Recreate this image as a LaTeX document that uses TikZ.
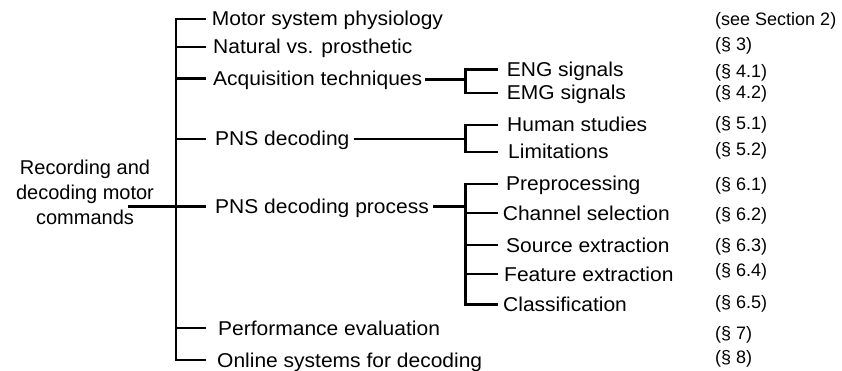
\documentclass[tikz,border=0pt]{standalone}
\usepackage{fontspec}
\setmainfont{Liberation Sans}
\newfontfamily\labelfont{Liberation Sans}[FakeStretch=1.05]
\usetikzlibrary{calc}
\begin{document}
\begin{tikzpicture}[x=1pt,y=-1pt,
  tree/.style={line width=2.9pt, line join=miter},
  item/.style={anchor=base west, inner sep=0pt, font=\labelfont\fontsize{20}{24.5}\selectfont},
  sect/.style={anchor=base west, inner sep=0pt, font=\fontsize{18}{22}\selectfont},
  rootbox/.style={anchor=base, inner sep=0pt, align=center, font=\fontsize{20}{24.5}\selectfont}]
\useasboundingbox (0,0) rectangle (842,371);

% root
\node[rootbox] (root) at (85,224) {Recording and\\decoding motor\\commands};
\coordinate (stub) at (128,206.7);

% first level
\node[item] (m1) at (211.7,26)  {Motor system physiology};
\node[item] (m2) at (213,54)    {Natural vs. prosthetic};
\node[item] (m3) at (213,85.5)  {Acquisition techniques};
\node[item] (m4) at (215,146)   {PNS decoding};
\node[item] (m5) at (215,213.5) {PNS decoding process};
\node[item] (m6) at (218,335)   {Performance evaluation};
\node[item] (m7) at (217,367)   {Online systems for decoding};

% second level
\node[item] (a1) at (506.7,76.5) {ENG signals};
\node[item] (a2) at (506.7,100)  {EMG signals};
\node[item] (b1) at (507,132)    {Human studies};
\node[item] (b2) at (508,159)    {Limitations};
\node[item] (c1) at (506,191)    {Preprocessing};
\node[item] (c2) at (502.7,220)  {Channel selection};
\node[item] (c3) at (506,252)    {Source extraction};
\node[item] (c4) at (504,281)    {Feature extraction};
\node[item] (c5) at (503,311.5)  {Classification};

% section references
\node[sect] (s1)  at (715,26)    {(see Section 2)};
\node[sect] (s2)  at (715,50.5)  {(§ 3)};
\node[sect] (s3)  at (715,77.5)  {(§ 4.1)};
\node[sect] (s4)  at (715,98.5)  {(§ 4.2)};
\node[sect] (s5)  at (715,130)   {(§ 5.1)};
\node[sect] (s6)  at (715,156)   {(§ 5.2)};
\node[sect] (s7)  at (715,191)   {(§ 6.1)};
\node[sect] (s8)  at (715,221)   {(§ 6.2)};
\node[sect] (s9)  at (715,251)   {(§ 6.3)};
\node[sect] (s10) at (715,276)   {(§ 6.4)};
\node[sect] (s11) at (715,308)   {(§ 6.5)};
\node[sect] (s12) at (715,339.5) {(§ 7)};
\node[sect] (s13) at (715,363)   {(§ 8)};

% trunk and junction columns
\coordinate (trunk) at (176,0);
\coordinate (tick)  at (206,0);
\coordinate (ja)    at (465.7,0);
\coordinate (sub)   at (498,0);

% tick ends, at mid cap height of each label
\foreach \n in {m1,m2,m3,m4,m5,m6,m7}
  \coordinate (e\n) at ([yshift=7pt]\n.base west -| tick);
\foreach \n in {a1,a2,b1,b2,c1,c2,c3,c4,c5}
  \coordinate (e\n) at ([yshift=7pt]\n.base west -| sub);

% start points of the links leaving the first-level labels
\coordinate (x3) at ([xshift=3pt,yshift=6pt]m3.base east);
\coordinate (x4) at ([xshift=4pt,yshift=7pt]m4.base east);
\coordinate (x5) at ([xshift=4pt,yshift=7pt]m5.base east);

% main tree
\draw[tree] (stub) -- (trunk |- stub);
\draw[tree] (em1) -| (trunk |- em7) -- (em7);
\foreach \n in {m2,m3,m4,m5,m6}
  \draw[tree] (trunk |- e\n) -- (e\n);

% acquisition techniques
\draw[tree] (x3) -- (ja |- x3);
\draw[tree] (ea1) -| (ja |- ea2) -- (ea2);

% PNS decoding
\draw[tree] (x4) -- (ja |- x4);
\draw[tree] (eb1) -| (ja |- eb2) -- (eb2);

% PNS decoding process
\draw[tree] (x5) -- (ja |- x5);
\draw[tree] (ec1) -| (ja |- ec5) -- (ec5);
\foreach \n in {c2,c3,c4}
  \draw[tree] (ja |- e\n) -- (e\n);
\end{tikzpicture}
\end{document}
